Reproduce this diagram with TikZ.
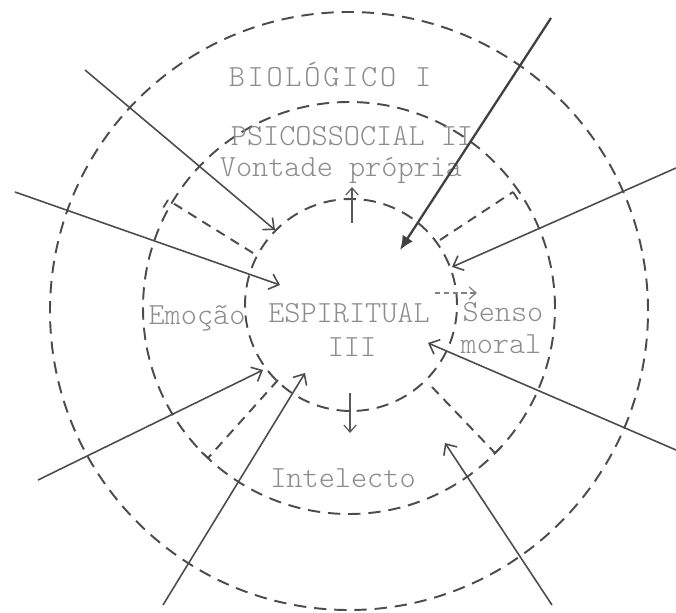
\documentclass[tikz,border=0pt]{standalone}
\usepackage{fontspec}
\setmonofont{lmmonolt10-regular.otf}
\newfontfamily\spreadtt{lmmonolt10-regular.otf}[LetterSpace=9]
\usepackage{xcolor}
\usepackage{tikz}
\usetikzlibrary{arrows.meta,calc}

\begin{document}
\begin{tikzpicture}[x=1cm,y=1cm,
  ring/.style={draw=black!70,line width=1.1pt,dash pattern=on 7pt off 4.5pt},
  divider/.style={draw=black!70,line width=1.1pt,dash pattern=on 5.5pt off 4pt},
  stub/.style={draw=black!70,line width=1pt},
  inflow/.style={draw=black!70,line width=0.9pt,-{Straight Barb[length=5pt,width=9pt]}},
  heavyflow/.style={draw=black!75,line width=1.3pt,-{Latex[length=8pt,width=7pt]}},
  outflow/.style={draw=black!65,line width=0.7pt,-{Straight Barb[length=4pt,width=7pt]}},
  word/.style={text=black!45,font=\ttfamily\fontsize{17.5}{20}\selectfont,inner sep=0pt,anchor=base}]
  \useasboundingbox (0,0) rectangle (13.52,12.24);
  % the three levels
  \coordinate (bio-c) at (6.98,6.02);
  \coordinate (psi-c) at (6.98,6.08);
  \coordinate (esp-c) at (7.02,6.14);
  \draw[ring] (bio-c) circle (5.98);
  \draw[ring] (psi-c) circle (4.12);
  \draw[ring] (esp-c) circle (2.12);

  % sectors of the middle ring
  \foreach \n/\ix/\iy/\ox/\oy/\s in {ul/5.06/7.18/3.36/8.24/-90, ur/8.80/7.44/10.26/8.40/90,
      lr/8.64/4.50/9.90/3.18/-90, ll/5.56/4.64/4.16/3.08/90}{
    \coordinate (\n-in) at (\ix,\iy);
    \coordinate (\n-end) at (\ox,\oy);
    \draw[divider] (\n-in) -- (\n-end);
    \draw[stub] (\n-end) -- ($(\n-end)!5pt!\s:(\n-in)$);}

  \node[word,font=\spreadtt\fontsize{17.5}{20}\selectfont] (bio) at (6.60,10.50) {BIOLÓGICO I};
  \node[word] (psico) at (7.04,9.32) {PSICOSSOCIAL II};
  \node[word] (vontade) at (6.82,8.70) {Vontade própria};
  \node[word] (emocao) at (3.94,5.74) {Emoção};
  \node[word] (espiritual) at (6.98,5.78) {ESPIRITUAL};
  \node[word] (tres) at (7.04,5.10) {III};
  \node[word] (senso) at (10.06,5.80) {Senso};
  \node[word] (moral) at (10.02,5.18) {moral};
  \node[word] (intelecto) at (6.86,2.50) {Intelecto};

  % influences from outside
  \foreach \n/\ox/\oy/\tx/\ty in {a/1.70/10.84/5.50/7.64, b/0.30/8.40/5.60/6.54,
      c/0.76/2.64/5.26/4.84, d/3.26/0.14/6.10/4.78, e/11.02/11.88/8.00/7.24,
      f/13.52/8.88/9.04/6.90, g/13.52/3.24/8.56/5.38, h/11.04/0.14/8.90/3.38}{
    \coordinate (\n-out) at (\ox,\oy);
    \coordinate (\n-tip) at (\tx,\ty);}
  \foreach \n in {a,b,c,d,f,g,h}
    \draw[inflow] (\n-out) -- (\n-tip);
  \draw[heavyflow] (e-out) -- (e-tip);

  % from the centre outwards
  \coordinate (up-a) at (7.04,7.78);
  \coordinate (up-b) at (7.04,8.50);
  \coordinate (down-a) at (7.00,4.38);
  \coordinate (down-b) at (7.00,3.58);
  \coordinate (right-a) at (8.70,6.38);
  \coordinate (right-b) at (9.54,6.38);
  \draw[outflow] (up-a) -- (up-b);
  \draw[outflow] (down-a) -- (down-b);
  \draw[outflow,draw=black!50,densely dashed] (right-a) -- (right-b);
\end{tikzpicture}
\end{document}
